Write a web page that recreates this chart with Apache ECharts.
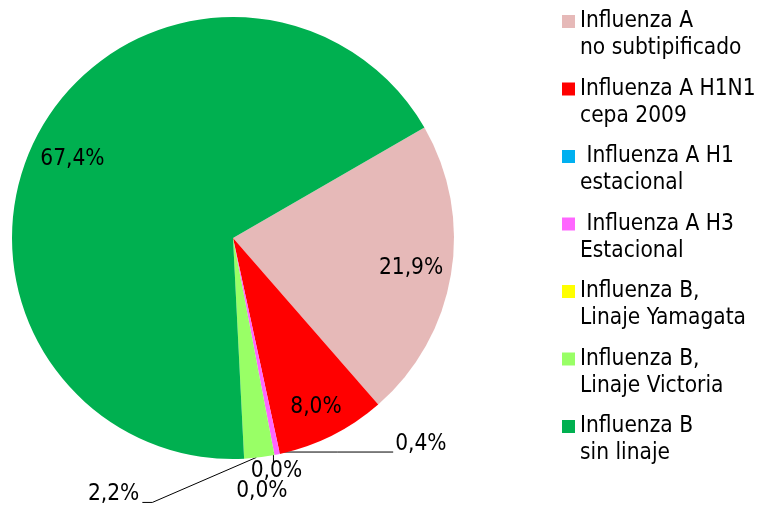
<!DOCTYPE html>
<html>
<head>
<meta charset="utf-8">
<script src="https://cdn.jsdelivr.net/npm/echarts@6/dist/echarts.min.js"></script>
<style>
  html, body { margin: 0; padding: 0; background: #fff; }
  #chart { width: 763px; height: 505px; }
</style>
</head>
<body>
<div id="chart"></div>
<script>
// categories, values (%), colors
const categories = [
    "Influenza A\nno subtipificado",
    "Influenza A H1N1\ncepa 2009",
    " Influenza A H1\nestacional",
    " Influenza A H3\nEstacional",
    "Influenza B,\nLinaje Yamagata",
    "Influenza B,\nLinaje Victoria",
    "Influenza B\nsin linaje"
];
const values = [21.9, 8.0, 0.0, 0.4, 0.0, 2.2, 67.4];
const colors = ["#E6B9B8", "#FF0000", "#00B0F0", "#FF66FF", "#FFFF00", "#99FF66", "#00B050"];

const FONT = "'DejaVu Sans Condensed', 'DejaVu Sans', sans-serif";
const FSIZE = 22.5;
const fmt = (v) => v.toFixed(1).replace('.', ',') + '%';

// small slices get outside labels, big ones get labels inside
const inside_idx = [0, 1, 6];
// little nudges for the inside labels (excel puts them a bit further out)
const inside_nudge = { 0: [0, 0], 1: [2, 8], 6: [-2, 7] };

const pie_data = values.map((v, i) => ({
    name: categories[i],
    value: v,
    itemStyle: { color: colors[i] },
    label: { show: !inside_idx.includes(i) },
    labelLine: { show: !inside_idx.includes(i) && i !== 2 }
}));

const label_data = values.map((v, i) => ({
    name: categories[i],
    value: v,
    label: { show: inside_idx.includes(i), offset: inside_nudge[i] || [0, 0] }
}));

// place the small labels relative to where the slice meets the rim
function small_labels(params) {
    const pts = params.labelLinePoints;
    if (!pts) return {};
    const p = pts[0];
    switch (params.dataIndex) {
        case 3:
            return {
                x: p[0] + 118, y: p[1] - 10, align: 'left', verticalAlign: 'middle',
                labelLinePoints: [[p[0] + 1.5, p[1] - 2.5], [p[0] + 60, p[1] - 2.5], [p[0] + 116, p[1] - 2.5]]
            };
        case 4:
            return {
                x: p[0] + 2, y: p[1] + 16.5, align: 'center', verticalAlign: 'middle',
                labelLinePoints: [[p[0] - 1, p[1] - 3], [p[0] - 1, p[1] + 2], [p[0] - 1, p[1] + 7]]
            };
        case 2:
            return { x: p[0] - 18, y: p[1] + 37, align: 'center', verticalAlign: 'middle' };
        case 5:
            return {
                x: p[0] - 120, y: p[1] + 37, align: 'right', verticalAlign: 'middle',
                labelLinePoints: [[p[0] - 3, p[1]], [p[0] - 107, p[1] + 45], [p[0] - 117, p[1] + 45]]
            };
    }
    return {};
}

const option = {
    backgroundColor: '#fff',
    animation: false,
    textStyle: { fontFamily: FONT },
    legend: {
        orient: 'vertical',
        left: 562,
        top: -19,
        padding: 0,
        data: categories,
        icon: 'rect',
        itemWidth: 13,
        itemHeight: 13,
        itemGap: -13.5,
        selectedMode: false,
        // a blank first line keeps the marker level with the first text line
        formatter: (name) => '\n' + name,
        textStyle: {
            fontFamily: FONT,
            fontSize: FSIZE,
            lineHeight: 27,
            color: '#000'
        }
    },
    series: [
        {
            type: 'pie',
            center: [233, 238],
            radius: [0, 221],
            startAngle: 30,
            clockwise: true,
            avoidLabelOverlap: false,
            data: pie_data,
            itemStyle: { borderWidth: 0 },
            label: {
                position: 'outside',
                formatter: (p) => fmt(p.value),
                fontFamily: FONT,
                fontSize: FSIZE,
                color: '#000'
            },
            labelLine: {
                length: 8,
                length2: 8,
                lineStyle: { color: '#000', width: 1 }
            },
            labelLayout: small_labels,
            emphasis: { disabled: true }
        },
        {
            // transparent ring that only holds the inside labels
            type: 'pie',
            center: [233, 238],
            radius: [134, 221],
            startAngle: 30,
            clockwise: true,
            silent: true,
            data: label_data,
            itemStyle: { color: 'rgba(0,0,0,0)' },
            label: {
                position: 'inside',
                formatter: (p) => fmt(p.value),
                fontFamily: FONT,
                fontSize: FSIZE,
                color: '#000'
            },
            labelLine: { show: false },
            emphasis: { disabled: true }
        }
    ]
};

const chart = echarts.init(document.getElementById('chart'));
chart.setOption(option);
</script>
</body>
</html>
